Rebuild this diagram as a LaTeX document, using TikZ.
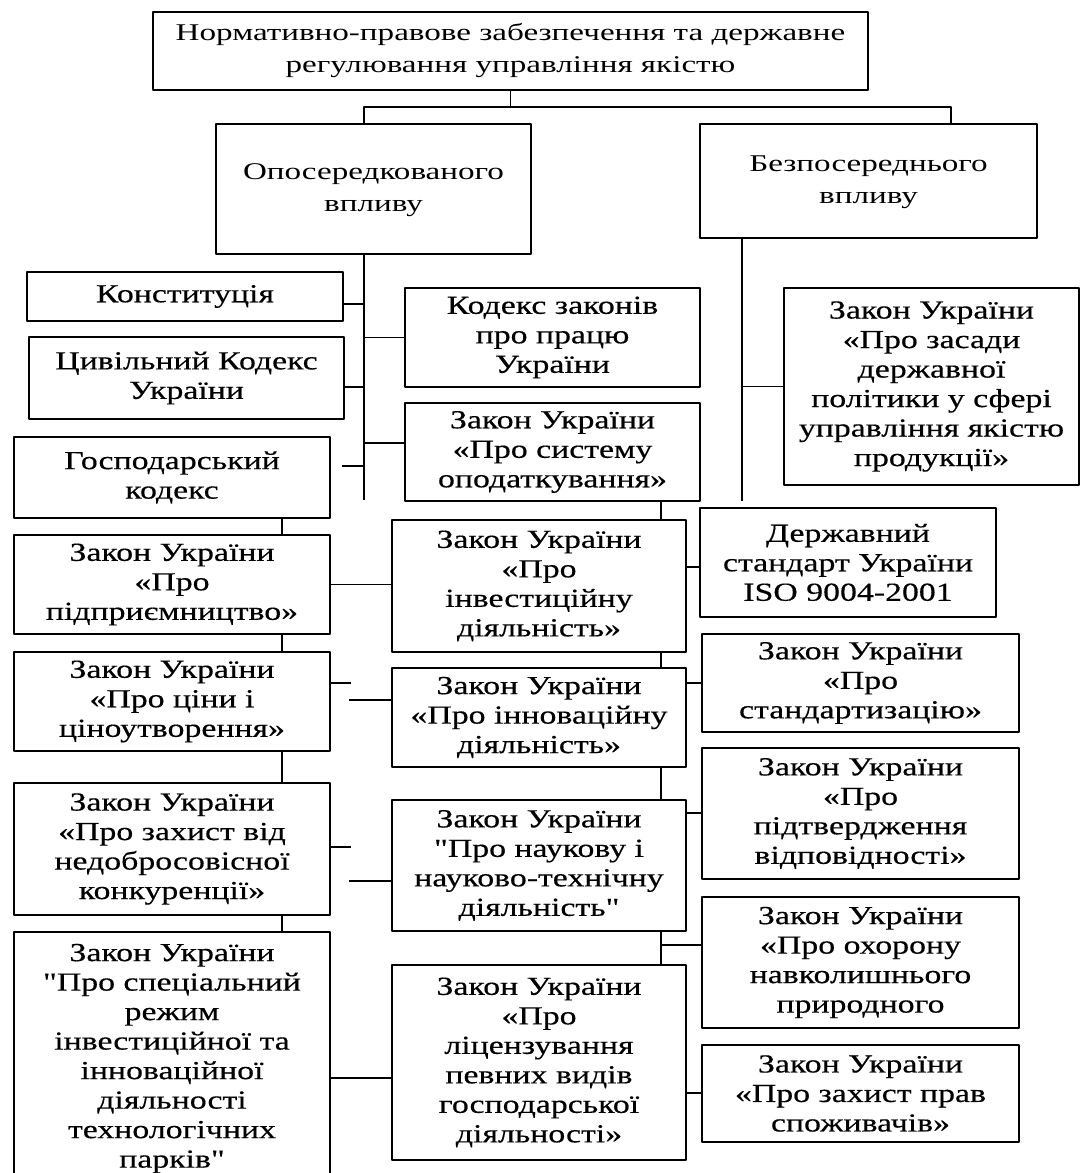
\documentclass[tikz,border=0pt]{standalone}
\usepackage{fontspec}
\setmainfont{Liberation Serif}[FakeStretch=1.3,FakeBold=0.4]
\newfontfamily\headfont{Liberation Serif}[FakeStretch=1.38]
\newfontfamily\quotefont{Liberation Serif}[FakeStretch=1.3,FakeBold=0.4,Ligatures=TeXOff]
\newcommand\dq{{\quotefont"}}
\tikzset{
  box/.style={draw, line width=1.3bp, inner sep=0pt, outer sep=0pt, align=center,
    font=\fontsize{26bp}{29.5bp}\selectfont},
  headbox/.style={box, font=\headfont\fontsize{24bp}{32bp}\selectfont},
  chain/.style={line width=2.8bp},
  link/.style={line width=1.3bp},
}
\begin{document}
\begin{tikzpicture}[line join=bevel,]
\useasboundingbox (0bp,0bp) rectangle (1083bp,1173bp);
\begin{scope}
\clip (0bp,0bp) rectangle (1083bp,1173bp);
  % Node: top
  \node[headbox, minimum width=715bp, minimum height=78bp] (top) at (510.5bp,1122bp)
    {Нормативно-правове забезпечення та державне\\регулювання управління якістю};
  % Node: opos
  \node[headbox, minimum width=315bp, minimum height=130bp] (opos) at (373.5bp,984bp)
    {\raisebox{-5bp}{\begin{tabular}{@{}c@{}}Опосередкованого\\впливу\end{tabular}}};
  % Node: bezp
  \node[headbox, minimum width=337bp, minimum height=114bp] (bezp) at (868.5bp,992bp)
    {\raisebox{-13bp}{\begin{tabular}{@{}c@{}}Безпосереднього\\впливу\end{tabular}}};
  % Node: konst
  \node[box, minimum width=316bp, minimum height=49bp] (konst) at (185bp,876.5bp)
    {Конституція};
  % Node: tsyv
  \node[box, minimum width=315bp, minimum height=82bp] (tsyv) at (186.5bp,795bp)
    {Цивільний Кодекс\\України};
  % Node: hosp
  \node[box, minimum width=316bp, minimum height=81bp] (hosp) at (172bp,695.5bp)
    {Господарський\\кодекс};
  % Node: kzpp
  \node[box, minimum width=295bp, minimum height=99bp] (kzpp) at (552.5bp,835.5bp)
    {Кодекс законів\\про працю\\України};
  % Node: podat
  \node[box, minimum width=295bp, minimum height=98bp] (podat) at (552.5bp,721bp)
    {Закон України\\«Про систему\\оподаткування»};
  % Node: zasady
  \node[box, minimum width=295bp, minimum height=197bp] (zasady) at (931.5bp,786.5bp)
    {Закон України\\«Про засади\\державної\\політики у сфері\\управління якістю\\продукції»};
  % Node: pidpr
  \node[box, minimum width=316bp, minimum height=99bp] (pidpr) at (172bp,588.5bp)
    {Закон України\\«Про\\підприємництво»};
  % Node: invest
  \node[box, minimum width=294bp, minimum height=132bp] (invest) at (539bp,587bp)
    {Закон України\\«Про\\інвестиційну\\діяльність»};
  % Node: dstu
  \node[box, minimum width=296bp, minimum height=109bp] (dstu) at (848bp,610.5bp)
    {Державний\\стандарт України\\ISO 9004-2001};
  % Node: tsiny
  \node[box, minimum width=316bp, minimum height=99bp] (tsiny) at (172bp,471.5bp)
    {Закон України\\«Про ціни і\\ціноутворення»};
  % Node: innov
  \node[box, minimum width=294bp, minimum height=99bp] (innov) at (539bp,455.5bp)
    {Закон України\\«Про інноваційну\\діяльність»};
  % Node: standart
  \node[box, minimum width=317bp, minimum height=98bp] (standart) at (860.5bp,490bp)
    {Закон України\\«Про\\стандартизацію»};
  % Node: konkur
  \node[box, minimum width=316bp, minimum height=132bp] (konkur) at (172bp,324bp)
    {Закон України\\«Про захист від\\недобросовісної\\конкуренції»};
  % Node: nauk
  \node[box, minimum width=294bp, minimum height=131bp] (nauk) at (539bp,307.5bp)
    {Закон України\\\dq Про наукову і\\науково-технічну\\діяльність\dq};
  % Node: pidtv
  \node[box, minimum width=317bp, minimum height=131bp] (pidtv) at (860.5bp,359.5bp)
    {Закон України\\«Про\\підтвердження\\відповідності»};
  % Node: okhor
  \node[box, minimum width=317bp, minimum height=131bp] (okhor) at (860.5bp,210.5bp)
    {Закон України\\«Про охорону\\навколишнього\\природного};
  % Node: spets
  \node[box, minimum width=316bp, minimum height=253bp] (spets) at (172bp,114.5bp)
    {Закон України\\\dq Про спеціальний\\режим\\інвестиційної та\\інноваційної\\діяльності\\технологічних\\парків\dq};
  % Node: lits
  \node[box, minimum width=294bp, minimum height=195bp] (lits) at (539bp,110.5bp)
    {Закон України\\«Про\\ліцензування\\певних видів\\господарської\\діяльності»};
  % Node: spozh
  \node[box, minimum width=317bp, minimum height=97bp] (spozh) at (860.5bp,79.5bp)
    {Закон України\\«Про захист прав\\споживачів»};
  % Edge: top -> opos, bezp
  \draw[link] (top.south) -- ++(0,-17bp);
  \draw[link] ([xshift=-9.5bp]opos.north) -- ++(0,17bp) -| ([xshift=82.5bp]bezp.north);
  % Edge: opos -> left trunk
  \draw[link] ([xshift=-9.5bp]opos.south) -- ++(0,-246bp);
  \draw[link] ([yshift=-7.5bp]konst.east) -- ++(21bp,0);
  \draw[link] ([yshift=-9bp]tsyv.east) -- ++(20bp,0);
  \draw[link] ([xshift=12bp,yshift=11.5bp]hosp.east) -- ++(22bp,0);
  \draw[link] (kzpp.west) -- ++(-41bp,0);
  \draw[link] ([yshift=9bp]podat.west) -- ++(-41bp,0);
  % Edge: bezp -> right trunk
  \draw[link] ([xshift=-126.5bp]bezp.south) -- ++(0,-263bp);
  \draw[link] (zasady.west) -- ++(-42bp,0);
  % Edge: left chain
  \draw[chain] ([xshift=110bp]hosp.south) -- ([xshift=110bp]pidpr.north);
  \draw[chain] ([xshift=110bp]pidpr.south) -- ([xshift=110bp]tsiny.north);
  \draw[chain] ([xshift=110bp]tsiny.south) -- ([xshift=110bp]konkur.north);
  \draw[chain] ([xshift=110bp]konkur.south) -- ([xshift=110bp]spets.north);
  % Edge: left column -> middle column
  \draw[link] (pidpr.east) -- (pidpr.east -| invest.west);
  \draw[link] ([yshift=18.5bp]tsiny.east) -- ++(21bp,0);
  \draw[link] ([yshift=17.5bp]innov.west) -- ++(-43bp,0);
  \draw[link] ([yshift=2bp]konkur.east) -- ++(21bp,0);
  \draw[link] ([yshift=-15.5bp]nauk.west) -- ++(-43bp,0);
  \draw[link] ([yshift=-19.5bp]spets.east) -- ++(62bp,0);
  % Edge: middle chain
  \draw[link] ([xshift=108.5bp]podat.south) -- ([xshift=122bp]invest.north);
  \draw[link] ([xshift=122bp]invest.south) -- ([xshift=122bp]innov.north);
  \draw[link] ([xshift=122bp]innov.south) -- ([xshift=122bp]nauk.north);
  \draw[link] ([xshift=122bp]nauk.south) -- ([xshift=122bp]lits.north);
  % Edge: middle column -> right column
  \draw[link] ([yshift=19bp]invest.east) -- ++(14bp,0);
  \draw[link] ([yshift=34.5bp]innov.east) -- ++(16bp,0);
  \draw[link] ([yshift=52.5bp]nauk.east) -- ++(16bp,0);
  \draw[link] ([yshift=17.5bp]okhor.west) -- ++(-41bp,0);
  \draw[link] ([yshift=-30.5bp]lits.east) -- ++(16bp,0);
\end{scope}
%
\end{tikzpicture}
\end{document}
